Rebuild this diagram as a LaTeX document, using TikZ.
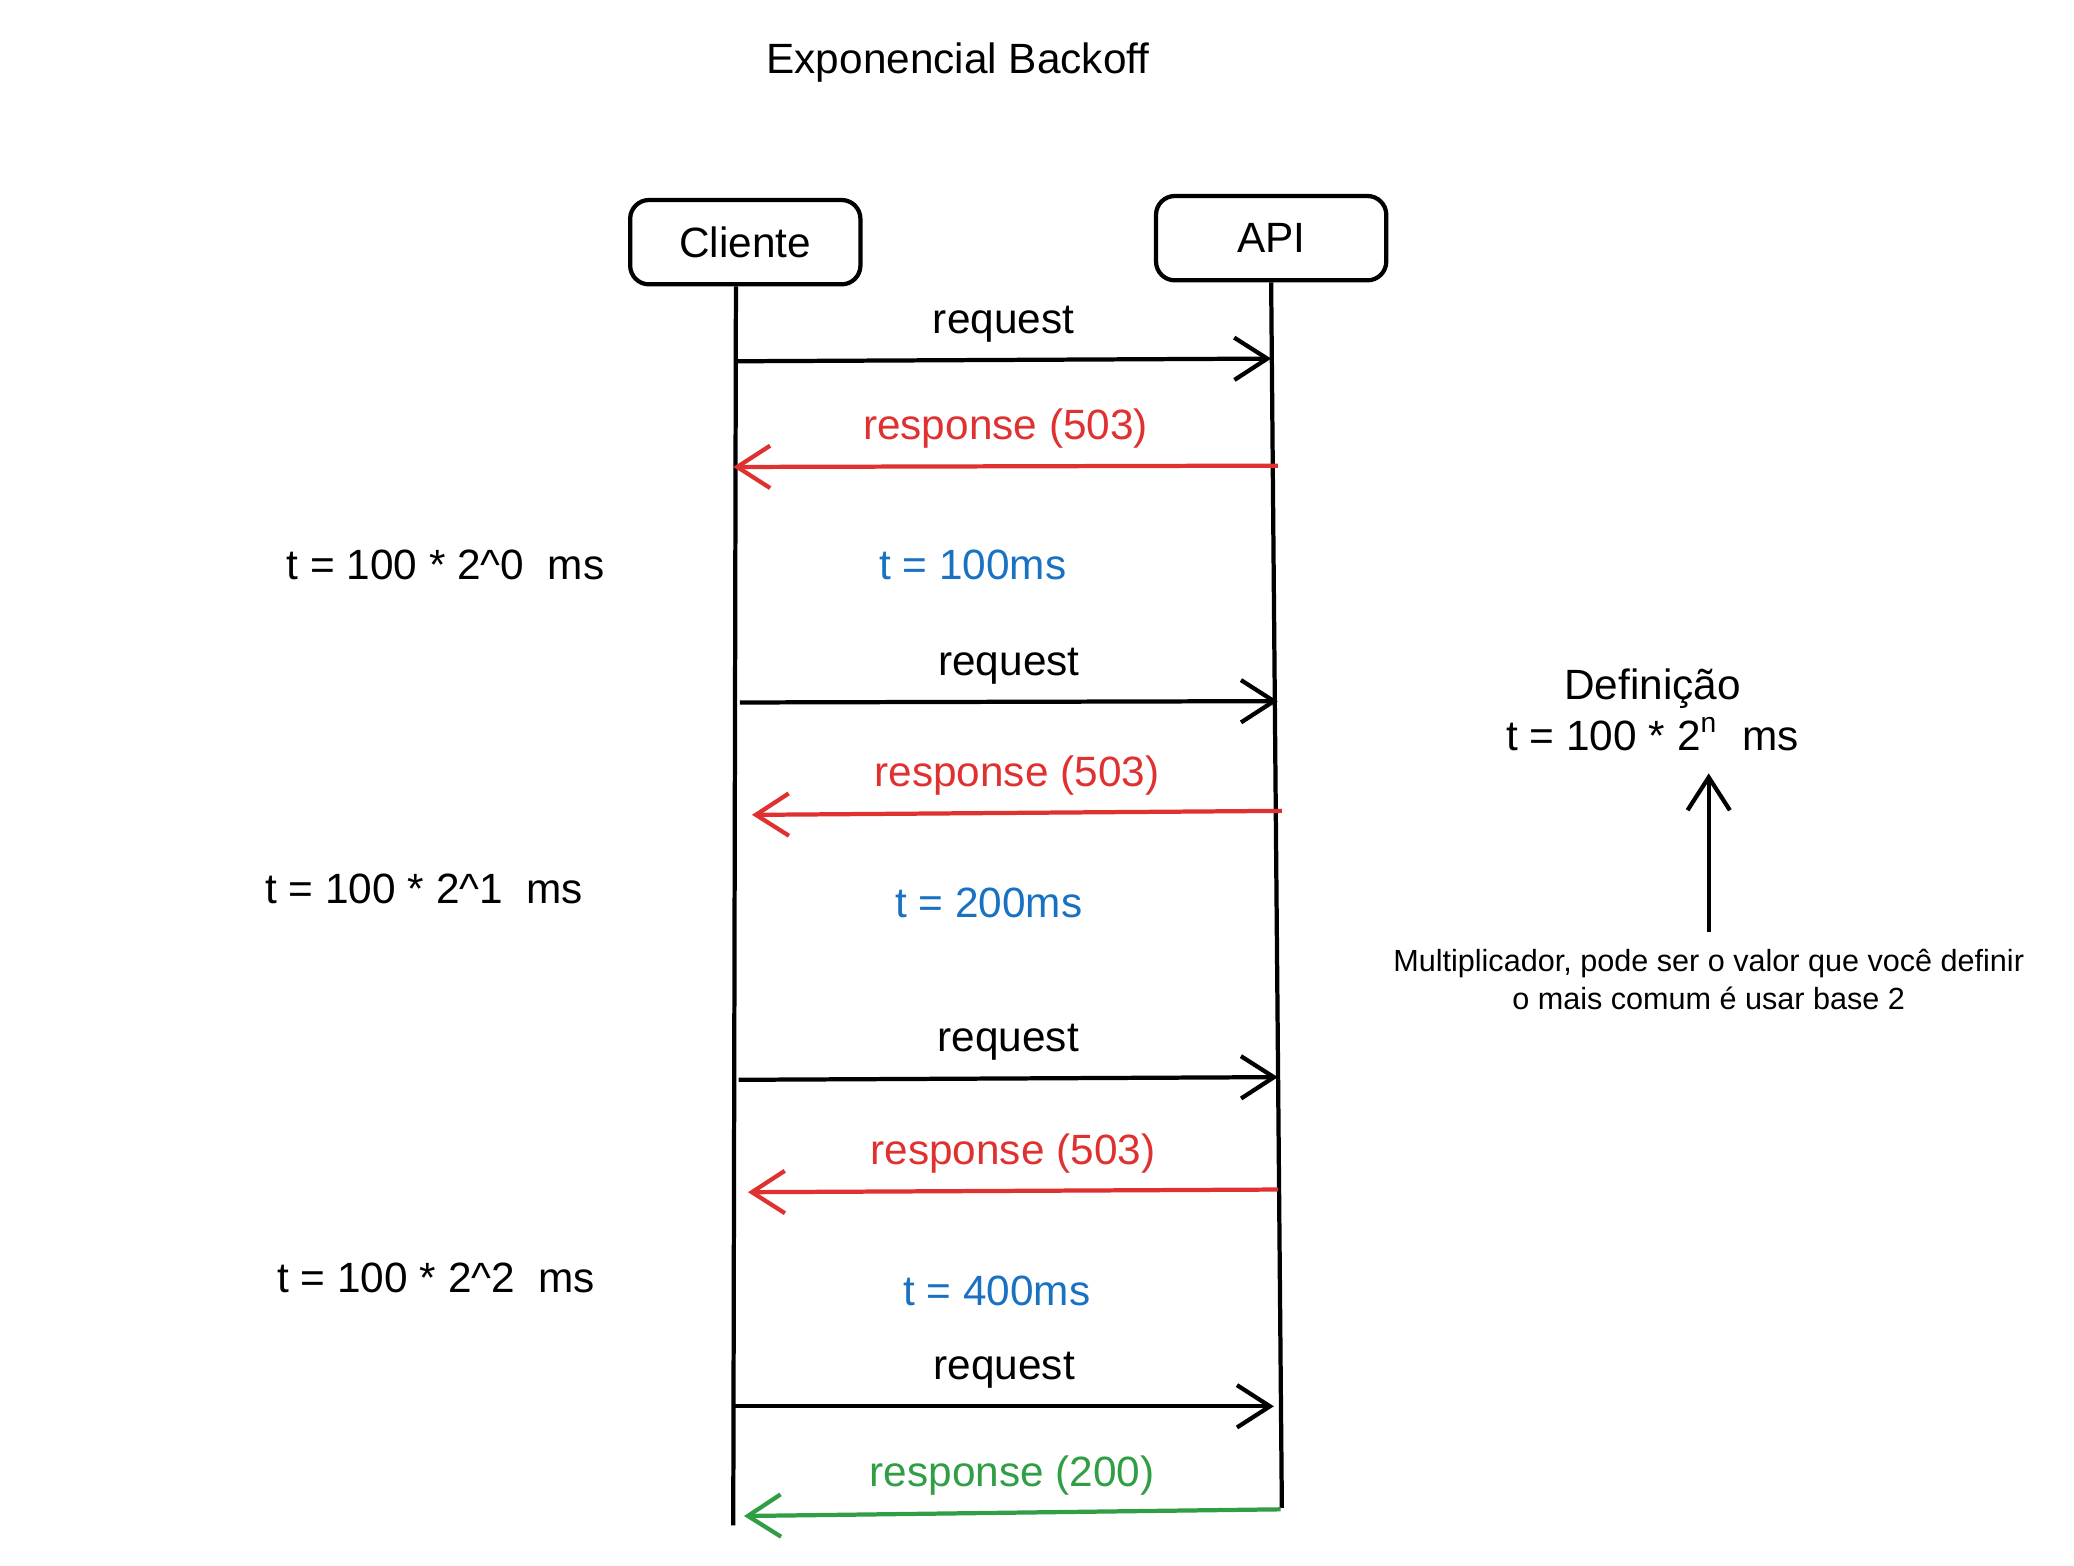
\documentclass[tikz,border=0pt]{standalone}
\usepackage{fontspec}
\setmainfont{Liberation Sans}
\usetikzlibrary{arrows.meta,positioning}
\definecolor{errred}{HTML}{E03131}
\definecolor{waitblue}{HTML}{1971C2}
\definecolor{okgreen}{HTML}{2F9E44}
\begin{document}
\begin{tikzpicture}[>={Straight Barb[length=7pt,width=9pt]}, line width=0.9pt, x=0.01cm, y=-0.01cm,
    actor/.style={draw, rounded corners=4pt, minimum width=1.72cm, minimum height=0.63cm, font=\small},
    msg/.style={->},
    lbl/.style={font=\small},
    wait/.style={font=\small, text=waitblue}]
  \useasboundingbox (0,0) rectangle (1550,1170);

  \node[font=\small] (title) at (716,47) {Exponencial Backoff};

  \node[actor] (cli) at (557,181) {Cliente};
  \node[actor] (api) at (950,178) {API};

  % lifelines
  \coordinate (cliEnd) at (548,1140);
  \coordinate (apiEnd) at (958,1127);
  \draw (cli.south -| 550,0) -- (cliEnd);
  \draw (api.south) -- (apiEnd);

  % messages
  \coordinate (c1) at (550,270);  \coordinate (a1) at (950,268);
  \coordinate (a2) at (955,348);  \coordinate (c2) at (548,349);
  \coordinate (c3) at (553,525);  \coordinate (a3) at (955,524);
  \coordinate (a4) at (958,606);  \coordinate (c4) at (562,609);
  \coordinate (c5) at (552,807);  \coordinate (a5) at (955,805);
  \coordinate (a6) at (955,889);  \coordinate (c6) at (559,891);
  \coordinate (c7) at (549,1051); \coordinate (a7) at (952,1051);
  \coordinate (a8) at (957,1128); \coordinate (c8) at (556,1133);

  \draw[msg] (c1) -- (a1) node[midway, above, lbl] {request};
  \draw[msg, errred] (a2) -- (c2) node[midway, above, lbl] {response (503)};
  \draw[msg] (c3) -- (a3) node[midway, above, lbl] {request};
  \draw[msg, errred] (a4) -- (c4) node[midway, above, lbl] {response (503)};
  \draw[msg] (c5) -- (a5) node[midway, above, lbl] {request};
  \draw[msg, errred] (a6) -- (c6) node[midway, above, lbl] {response (503)};
  \draw[msg] (c7) -- (a7) node[midway, above, lbl] {request};
  \draw[msg, okgreen] (a8) -- (c8) node[midway, above, lbl] {response (200)};

  \node[wait] (w1) at (727,422) {t = 100ms};
  \node[wait] (w2) at (739,675) {t = 200ms};
  \node[wait] (w3) at (745,965) {t = 400ms};

  \node[lbl] (f1) at (333,422) {t = 100 * 2\^{}0 \ ms};
  \node[lbl] (f2) at (317,664) {t = 100 * 2\^{}1 \ ms};
  \node[lbl] (f3) at (326,955) {t = 100 * 2\^{}2 \ ms};

  % definition
  \node[lbl] (defTitle) at (1235,515) {Definição};
  \node[lbl] (defEq) at (1235,549) {t = 100 * 2\textsuperscript{n} \ ms};
  \node[font=\fontsize{6.5}{8}\selectfont, align=center] (note) at (1277,732) {Multiplicador, pode ser o valor que você definir\\o mais comum é usar base 2};
  \coordinate (nTip) at (1277,578);
  \draw[->] (note.north) -- (nTip);
\end{tikzpicture}
\end{document}
